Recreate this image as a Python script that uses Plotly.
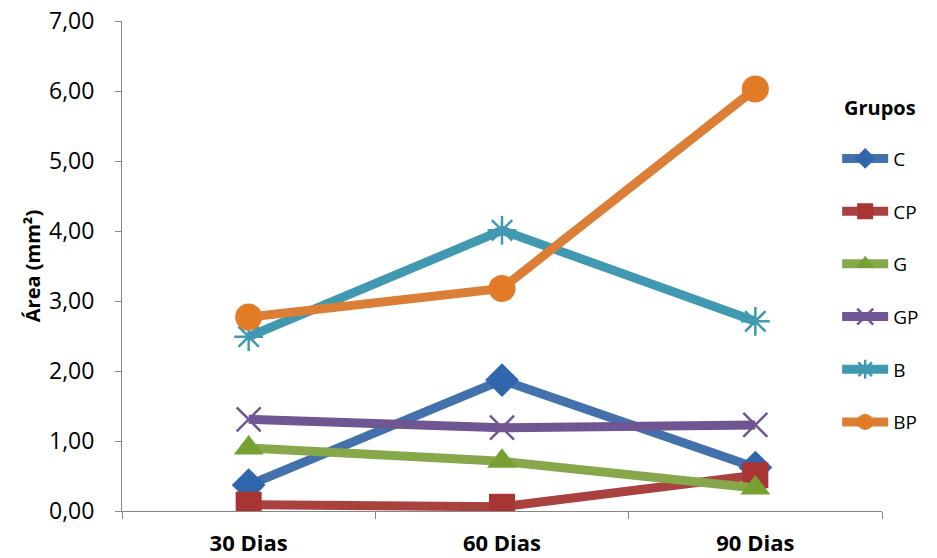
import plotly.graph_objects as go

# Measured lesion area per group at each time point
periods = ["30 Dias", "60 Dias", "90 Dias"]
groups = ["C", "CP", "G", "GP", "B", "BP"]
c_vals = [0.37, 1.87, 0.62]
cp_vals = [0.09, 0.06, 0.51]
g_vals = [0.90, 0.71, 0.33]
gp_vals = [1.31, 1.19, 1.23]
b_vals = [2.49, 4.01, 2.71]
bp_vals = [2.77, 3.18, 6.03]
y_ticks = [0, 1, 2, 3, 4, 5, 6, 7]

series = [c_vals, cp_vals, g_vals, gp_vals, b_vals, bp_vals]
line_colors = ["#4371AB", "#A9413F", "#86A74A", "#6F5592", "#4099B1", "#DB7F37"]
marker_colors = ["#2F66AC", "#A83434", "#76A032", "#6F5592", "#4099B1", "#E27B25"]
symbols = ["diamond", "square", "triangle-up", "x-thin-open", "asterisk-open", "circle"]
sizes = [26, 26, 26, 24, 24, 27]

FONT = "Open Sans, Liberation Sans, sans-serif"

fig = go.Figure()
for name, vals, lc, mc, sym, sz in zip(groups, series, line_colors, marker_colors, symbols, sizes):
    open_marker = sym.endswith("-open")
    fig.add_trace(go.Scatter(
        x=periods, y=vals, name=name, legendgroup=name,
        mode="lines+markers",
        line=dict(color=lc, width=9),
        marker=dict(
            symbol=sym, size=sz, color=mc,
            line=dict(color=mc, width=2.5 if open_marker else 0),
        ),
    ))

# Legend heading placed on its own above the entries
fig.add_annotation(
    text="<b>Grupos</b>", xref="paper", yref="paper",
    x=0.997, y=0.824, xanchor="center", yanchor="middle",
    showarrow=False, font=dict(size=20, family=FONT, color="#000000"),
)

fig.update_layout(
    width=937, height=558,
    margin=dict(l=122, r=55, t=21, b=47),
    paper_bgcolor="white", plot_bgcolor="white",
    separators=",.",
    font=dict(family=FONT, color="#000000"),
    showlegend=True,
    legend=dict(
        font=dict(size=19),
        x=0.941, xanchor="left", y=0.758, yanchor="top",
        tracegroupgap=25, itemwidth=46,
        borderwidth=0,
        bgcolor="rgba(0,0,0,0)",
    ),
    xaxis=dict(
        type="category", range=[-0.5, 2.5], automargin=False,
        showgrid=False, zeroline=False,
        showline=True, linecolor="#868686", linewidth=1,
        ticks="outside", tickson="boundaries", ticklen=7, tickcolor="#868686",
        tickfont=dict(size=22, family=FONT, weight="bold"),
        ticklabelstandoff=13,
    ),
    yaxis=dict(
        range=[0, 7], tickvals=y_ticks, tickformat=".2f", automargin=False,
        showgrid=False, zeroline=False,
        showline=True, linecolor="#868686", linewidth=1,
        ticks="outside", ticklen=6, tickcolor="#868686",
        tickfont=dict(size=23, family=FONT),
        ticklabelstandoff=16,
        title=dict(text="<b>Área (mm²)</b>", font=dict(size=20, family=FONT), standoff=2),
    ),
)

fig.write_html("out.html")
